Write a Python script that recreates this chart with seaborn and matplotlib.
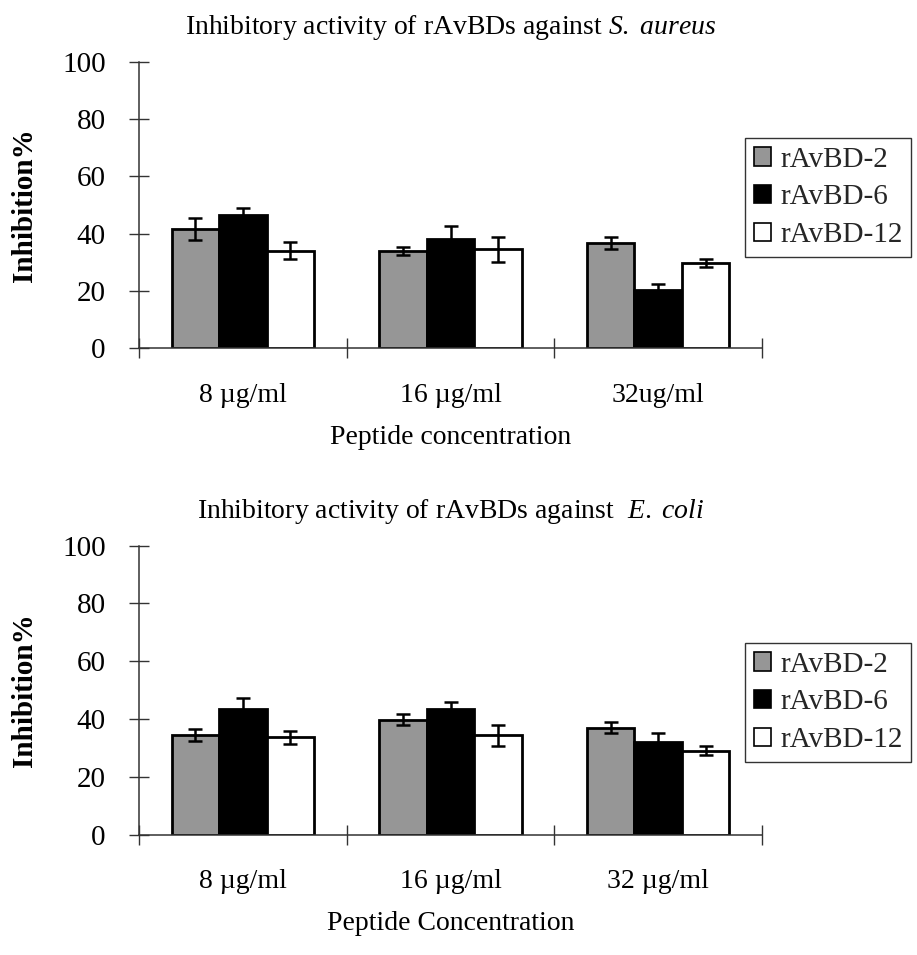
import matplotlib
matplotlib.use("Agg")
import matplotlib.pyplot as plt
from matplotlib.patches import Patch
import seaborn as sns
import pandas as pd

sns.set_theme(style="white")
plt.rcParams['font.family'] = ['Liberation Serif', 'DejaVu Serif']
plt.rcParams['mathtext.fontset'] = 'custom'
plt.rcParams['mathtext.rm'] = 'Liberation Serif'
plt.rcParams['mathtext.it'] = 'Liberation Serif:italic'

# ---- data ----
peptides = ["rAvBD-2", "rAvBD-6", "rAvBD-12"]
conc_sa = ["8 µg/ml", "16 µg/ml", "32ug/ml"]
conc_ec = ["8 µg/ml", "16 µg/ml", "32 µg/ml"]

sa_avbd2 = [41.6, 34.0, 36.6]
sa_avbd6 = [46.5, 38.0, 20.4]
sa_avbd12 = [34.0, 34.5, 29.9]
sa_err2 = [3.7, 1.5, 2.1]
sa_err6 = [2.6, 4.7, 2.0]
sa_err12 = [3.0, 4.5, 1.4]

ec_avbd2 = [34.5, 39.8, 37.0]
ec_avbd6 = [43.3, 43.3, 31.9]
ec_avbd12 = [33.7, 34.3, 29.0]
ec_err2 = [2.2, 1.8, 1.8]
ec_err6 = [4.0, 2.6, 3.2]
ec_err12 = [2.2, 3.5, 1.5]

colors = ["#969696", "#000000", "#ffffff"]

W, H = 917, 955
fig = plt.figure(figsize=(W / 100, H / 100), dpi=100)


def panel(rect, concs, vals, errs, title, xlabel, legend_top):
    ax = fig.add_axes(rect)
    rows = []
    for p, v in zip(peptides, vals):
        for c, y in zip(concs, v):
            rows.append({"conc": c, "peptide": p, "value": y})
    df = pd.DataFrame(rows)
    sns.barplot(data=df, x="conc", y="value", hue="peptide", order=concs,
                hue_order=peptides, palette=colors, width=0.685,
                errorbar=None, edgecolor="black", linewidth=2,
                legend=False, ax=ax, saturation=1)
    for cont, e in zip(ax.containers, errs):
        xs = [b.get_x() + b.get_width() / 2 for b in cont]
        ys = [b.get_height() for b in cont]
        ax.errorbar(xs, ys, yerr=e, fmt="none", ecolor="black",
                    elinewidth=1.8, capsize=4.8, capthick=1.8, zorder=5)
    ax.set_ylim(0, 100)
    ax.set_xlim(-0.5, 2.5)
    ax.set_yticks([0, 20, 40, 60, 80, 100])
    ax.set_xticks([-0.5, 0.5, 1.5, 2.5], minor=True)
    ax.tick_params(axis="x", which="major", bottom=True, length=0,
                   labelsize=20, pad=25, colors="black")
    ax.tick_params(axis="x", which="minor", bottom=True, length=14, width=1,
                   direction="inout", color="#333333")
    ax.tick_params(axis="y", which="major", left=True, length=14, width=1,
                   direction="inout", labelsize=21, pad=17,
                   color="#333333", labelcolor="black")
    for s in ["top", "right"]:
        ax.spines[s].set_visible(False)
    for s in ["left", "bottom"]:
        ax.spines[s].set_color("#333333")
        ax.spines[s].set_linewidth(1.1)
    ax.set_xlabel(xlabel, fontsize=20, labelpad=12, color="black")
    ax.set_ylabel("Inhibition%", fontsize=21, fontweight="bold",
                  labelpad=17, color="black")
    ax.set_title(title, fontsize=20, pad=20, color="black")
    handles = [Patch(facecolor=c, edgecolor="black", linewidth=1.2)
               for c in colors]
    fig.legend(handles, peptides, loc="upper left",
               bbox_to_anchor=(745 / W, 1 - legend_top / H),
               bbox_transform=fig.transFigure, fontsize=21,
               frameon=True, fancybox=False, edgecolor="black",
               handlelength=0.6, handleheight=0.6, handletextpad=0.3,
               labelspacing=0.4, borderpad=0.3, borderaxespad=0)
    return ax


panel([139 / W, 1 - 348.3 / H, (762 - 139) / W, 286.6 / H],
      conc_sa, [sa_avbd2, sa_avbd6, sa_avbd12], [sa_err2, sa_err6, sa_err12],
      r"Inhibitory activity of rAvBDs against $\it{S.\ aureus}$",
      "Peptide concentration", 138)
panel([139 / W, 1 - 834.5 / H, (762 - 139) / W, 288.8 / H],
      conc_ec, [ec_avbd2, ec_avbd6, ec_avbd12], [ec_err2, ec_err6, ec_err12],
      r"Inhibitory activity of rAvBDs against  $\it{E.\ coli}$",
      "Peptide Concentration", 643)

fig.savefig("out.png", dpi=100)
